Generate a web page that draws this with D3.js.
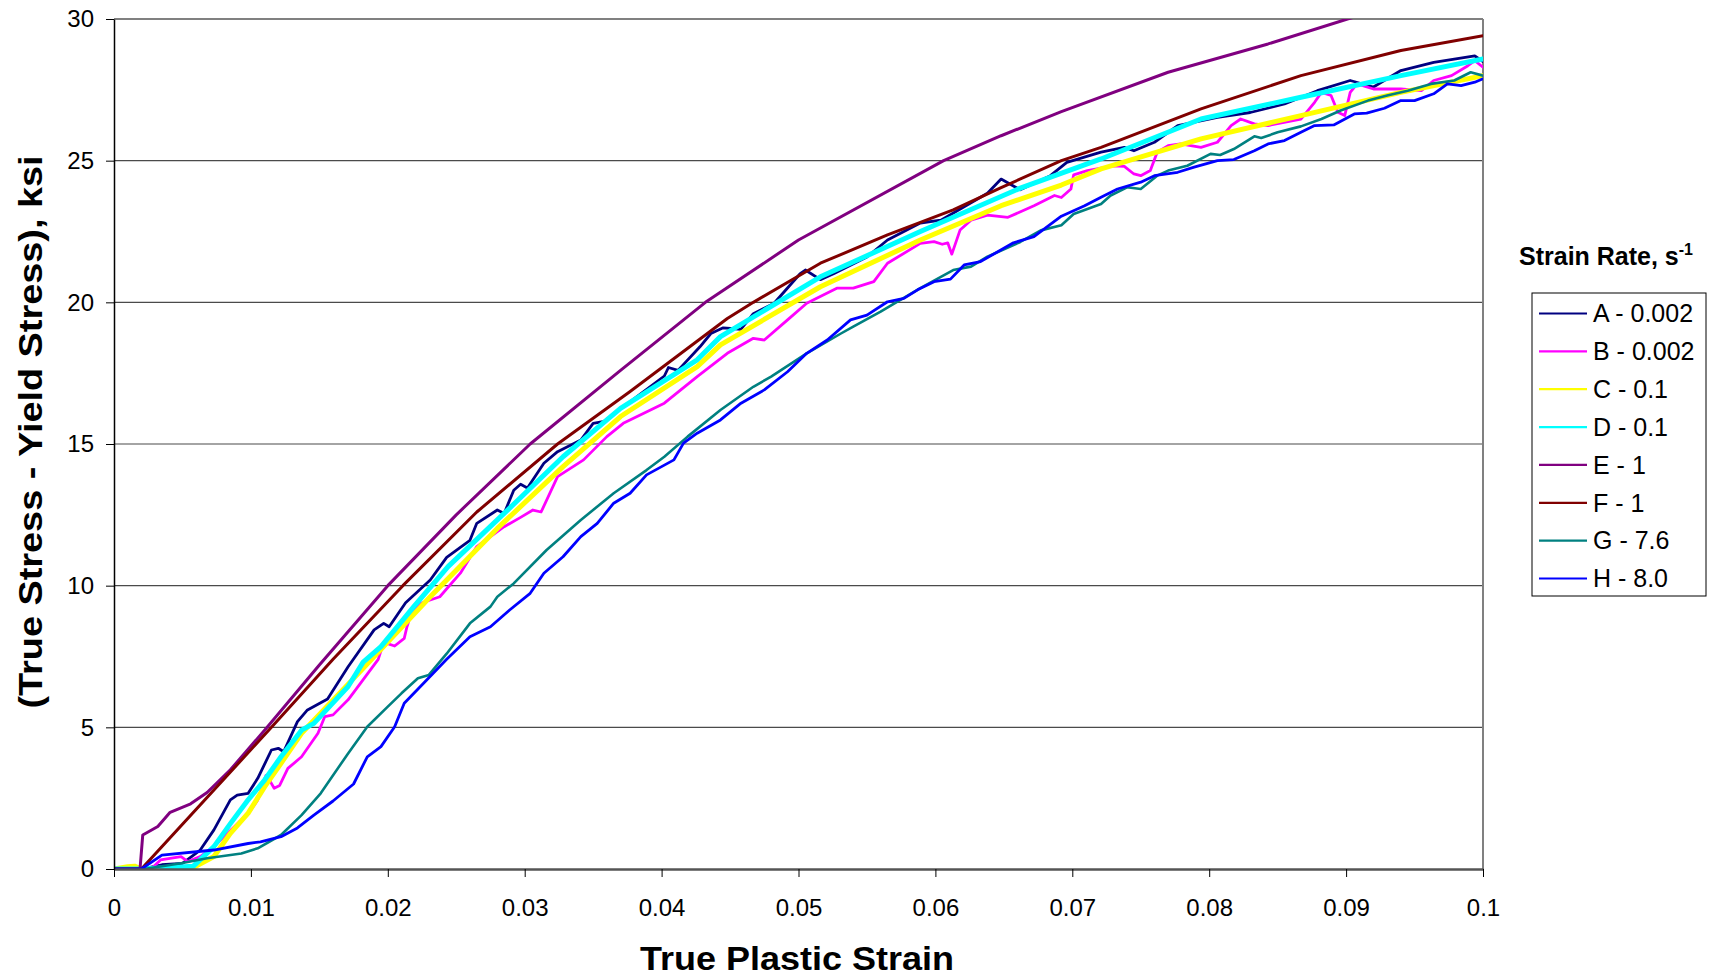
<!DOCTYPE html>
<html>
<head>
<meta charset="utf-8">
<script src="https://cdn.jsdelivr.net/npm/d3@7"></script>
<style>
  html, body { margin: 0; padding: 0; background: #fff; }
  svg { display: block; }
  text { font-family: "Liberation Sans", Arial, Helvetica, sans-serif; fill: #000; }
</style>
</head>
<body>
<svg id="chart" width="1716" height="979"></svg>
<script>
// ---------- DATA ----------
const xTicks = [0, 0.01, 0.02, 0.03, 0.04, 0.05, 0.06, 0.07, 0.08, 0.09, 0.1];
const xTickLabels = ["0", "0.01", "0.02", "0.03", "0.04", "0.05", "0.06", "0.07", "0.08", "0.09", "0.1"];
const yTicks = [0, 5, 10, 15, 20, 25, 30];
const yTickLabels = ["0", "5", "10", "15", "20", "25", "30"];

const seriesNames = ["A - 0.002", "B - 0.002", "C - 0.1", "D - 0.1", "E - 1", "F - 1", "G - 7.6", "H - 8.0"];
const seriesColors = ["#000080", "#FF00FF", "#FFFF00", "#00FFFF", "#800080", "#800000", "#008080", "#0000FF"];

const seriesA = [[0,0],[0.002,0],[0.0035,0.15],[0.005,0.2],[0.0063,0.67],[0.0073,1.38],[0.0085,2.44],[0.009,2.61],[0.0098,2.67],[0.0105,3.2],[0.0115,4.2],[0.012,4.26],[0.0124,4.14],[0.0134,5.2],[0.0141,5.6],[0.0156,6.0],[0.0171,7.14],[0.019,8.44],[0.0197,8.67],[0.0201,8.55],[0.0213,9.4],[0.0231,10.2],[0.0243,11.0],[0.026,11.6],[0.0265,12.2],[0.028,12.67],[0.0285,12.55],[0.0292,13.37],[0.0297,13.58],[0.0302,13.45],[0.0314,14.32],[0.0324,14.73],[0.0341,15.14],[0.035,15.73],[0.0358,15.8],[0.0373,16.35],[0.0402,17.4],[0.0405,17.7],[0.0412,17.6],[0.0428,18.43],[0.0436,18.9],[0.0445,19.1],[0.0458,19.05],[0.0467,19.6],[0.0482,19.96],[0.0501,21.0],[0.0505,21.14],[0.0516,20.8],[0.0526,21.02],[0.055,21.6],[0.0565,22.2],[0.0589,22.8],[0.0604,22.9],[0.0638,23.85],[0.0648,24.35],[0.0662,23.97],[0.0684,24.47],[0.0696,24.94],[0.0721,25.3],[0.0738,25.47],[0.0745,25.35],[0.076,25.65],[0.0777,26.24],[0.0806,26.53],[0.083,26.7],[0.0855,27.0],[0.0879,27.47],[0.0903,27.83],[0.092,27.6],[0.094,28.18],[0.0964,28.47],[0.0994,28.7],[0.1,28.5]];

const seriesB = [[0,0],[0.0027,0],[0.0034,0.32],[0.0049,0.44],[0.0054,0.26],[0.0063,0.44],[0.0073,0.79],[0.0083,1.26],[0.0093,1.73],[0.01,2.08],[0.0105,2.44],[0.0111,3.3],[0.0114,3.1],[0.0117,2.85],[0.0121,2.95],[0.0127,3.55],[0.0137,3.96],[0.0149,4.79],[0.0154,5.38],[0.016,5.44],[0.0171,5.97],[0.018,6.55],[0.0193,7.4],[0.0197,8.0],[0.0205,7.87],[0.0212,8.14],[0.0214,8.55],[0.0217,9.0],[0.0224,9.38],[0.0238,9.61],[0.0253,10.44],[0.0265,11.38],[0.0285,12.08],[0.0297,12.41],[0.0306,12.67],[0.0312,12.6],[0.0324,13.85],[0.0343,14.44],[0.036,15.26],[0.0372,15.73],[0.0402,16.44],[0.0426,17.38],[0.0448,18.2],[0.0467,18.73],[0.0475,18.67],[0.0492,19.38],[0.0506,19.97],[0.0528,20.5],[0.054,20.5],[0.0555,20.73],[0.0565,21.38],[0.0589,22.08],[0.0599,22.14],[0.0605,22.05],[0.0609,22.1],[0.0612,21.7],[0.0618,22.55],[0.0626,22.9],[0.0638,23.08],[0.0653,23.0],[0.0672,23.41],[0.0687,23.77],[0.0692,23.7],[0.0699,24.0],[0.0701,24.5],[0.0711,24.65],[0.073,24.82],[0.0738,24.8],[0.0745,24.53],[0.075,24.47],[0.0757,24.65],[0.0762,25.3],[0.077,25.53],[0.0779,25.59],[0.0794,25.47],[0.0806,25.65],[0.0816,26.24],[0.0823,26.47],[0.0833,26.3],[0.0843,26.24],[0.0867,26.47],[0.0877,27.06],[0.0882,27.41],[0.0889,27.3],[0.0894,26.71],[0.0899,26.59],[0.0903,27.41],[0.0908,27.71],[0.092,27.53],[0.094,27.53],[0.0955,27.47],[0.0964,27.83],[0.0977,28.0],[0.0989,28.35],[0.0994,28.53],[0.1,28.3]];

const seriesC = [[0,0],[0.001,0.08],[0.0015,0.1],[0.002,0],[0.0056,0],[0.0073,0.44],[0.0085,1.26],[0.0098,1.97],[0.011,2.9],[0.0122,3.73],[0.0137,4.79],[0.0182,7.08],[0.0231,9.61],[0.028,12.02],[0.0328,14.2],[0.037,15.97],[0.0426,17.73],[0.0443,18.5],[0.0516,20.55],[0.0589,22.2],[0.0648,23.41],[0.0692,24.14],[0.0721,24.71],[0.0794,25.77],[0.0867,26.59],[0.094,27.41],[0.1,28.0]];

const seriesD = [[0,0],[0.002,0],[0.0058,0.1],[0.0073,0.79],[0.0085,1.6],[0.0098,2.44],[0.011,3.14],[0.0122,3.96],[0.0137,4.9],[0.0146,5.14],[0.0171,6.44],[0.0182,7.3],[0.0195,7.85],[0.0219,9.26],[0.0244,10.67],[0.028,12.32],[0.0328,14.55],[0.037,16.26],[0.0426,17.97],[0.0443,18.79],[0.0516,20.9],[0.0589,22.5],[0.0662,24.03],[0.0721,25.06],[0.0794,26.47],[0.0867,27.24],[0.094,28.0],[0.1,28.59]];

const seriesE = [[0,0],[0.0019,0],[0.0021,1.2],[0.0032,1.5],[0.0041,2.0],[0.0056,2.3],[0.0068,2.7],[0.0085,3.5],[0.011,4.9],[0.015,7.2],[0.020,10.0],[0.025,12.5],[0.0304,15.0],[0.037,17.6],[0.0432,20.0],[0.05,22.2],[0.0606,25.0],[0.0648,25.88],[0.0692,26.73],[0.077,28.12],[0.0843,29.12],[0.0901,30.0],[0.1,31.3]];

const seriesF = [[0,0],[0.002,0],[0.0115,5.0],[0.016,7.4],[0.0211,10.0],[0.0265,12.6],[0.0324,15.0],[0.0377,16.85],[0.0448,19.43],[0.0467,20.0],[0.0516,21.38],[0.0565,22.38],[0.0613,23.26],[0.0648,24.05],[0.0692,25.0],[0.0721,25.47],[0.0794,26.83],[0.0867,28.0],[0.094,28.89],[0.1,29.41]];

const seriesG = [[0,0],[0.0022,0],[0.0049,0.2],[0.0068,0.38],[0.0093,0.55],[0.0105,0.73],[0.0122,1.2],[0.0137,1.9],[0.0151,2.67],[0.0171,4.08],[0.0185,5.02],[0.02,5.73],[0.021,6.2],[0.0222,6.73],[0.023,6.85],[0.0243,7.6],[0.026,8.67],[0.0275,9.26],[0.028,9.61],[0.0292,10.08],[0.0316,11.26],[0.0341,12.32],[0.0365,13.26],[0.0389,14.08],[0.0402,14.55],[0.0419,15.26],[0.0443,16.2],[0.0467,17.02],[0.048,17.38],[0.0506,18.2],[0.0531,18.9],[0.054,19.14],[0.056,19.67],[0.0572,20.02],[0.0589,20.5],[0.0613,21.14],[0.0626,21.26],[0.0638,21.61],[0.0662,22.13],[0.0677,22.54],[0.0692,22.72],[0.0701,23.12],[0.0721,23.47],[0.0728,23.77],[0.074,24.06],[0.075,24.0],[0.0762,24.47],[0.077,24.65],[0.0784,24.82],[0.0801,25.24],[0.0808,25.2],[0.0818,25.41],[0.0833,25.86],[0.0838,25.8],[0.085,26.0],[0.0867,26.21],[0.0882,26.47],[0.0896,26.77],[0.0916,27.12],[0.093,27.3],[0.0945,27.47],[0.0962,27.71],[0.0979,27.83],[0.0991,28.12],[0.1,28.0]];

const seriesH = [[0,0],[0.002,0],[0.0035,0.49],[0.0073,0.67],[0.0098,0.9],[0.0107,0.96],[0.0122,1.14],[0.0134,1.45],[0.0146,1.9],[0.016,2.4],[0.0175,3.0],[0.0185,3.96],[0.0195,4.32],[0.0205,5.02],[0.0212,5.85],[0.0227,6.6],[0.0243,7.4],[0.026,8.2],[0.0275,8.55],[0.0289,9.14],[0.0304,9.73],[0.0314,10.44],[0.0328,11.02],[0.0341,11.73],[0.0353,12.2],[0.0365,12.91],[0.0377,13.26],[0.0389,13.91],[0.0409,14.44],[0.0416,15.03],[0.0426,15.38],[0.0443,15.85],[0.0458,16.44],[0.0475,16.91],[0.0492,17.55],[0.0506,18.2],[0.0521,18.67],[0.0538,19.38],[0.055,19.55],[0.0565,20.02],[0.0577,20.14],[0.0587,20.44],[0.0599,20.73],[0.0611,20.82],[0.0621,21.32],[0.0633,21.44],[0.0657,22.1],[0.0672,22.32],[0.0692,23.04],[0.0709,23.41],[0.0721,23.71],[0.0733,24.0],[0.075,24.24],[0.076,24.47],[0.0777,24.59],[0.0789,24.77],[0.0806,25.0],[0.0818,25.04],[0.0833,25.35],[0.0843,25.59],[0.0855,25.71],[0.0867,26.0],[0.0877,26.24],[0.0891,26.26],[0.0906,26.65],[0.0915,26.68],[0.0928,26.85],[0.094,27.12],[0.095,27.12],[0.0964,27.36],[0.0974,27.71],[0.0984,27.65],[0.0994,27.77],[0.1,27.89]];

const allSeries = [seriesA, seriesB, seriesC, seriesD, seriesE, seriesF, seriesG, seriesH];
const seriesWidths = [2.8, 2.8, 5, 5, 3, 3, 2.6, 2.8];

// ---------- LAYOUT ----------
(function () {
  const svg = d3.select("#chart");
  const pLeft = 114, pRight = 1483, pTop = 19, pBottom = 869;

  const x = d3.scaleLinear().domain([0, 0.1]).range([pLeft, pRight]);
  const y = d3.scaleLinear().domain([0, 30]).range([pBottom, pTop]);

  // gridlines
  svg.append("g").selectAll("line").data(yTicks.filter(v => v > 0 && v < 30)).join("line")
    .attr("x1", pLeft).attr("x2", pRight)
    .attr("y1", d => y(d)).attr("y2", d => y(d))
    .attr("stroke", "#4a4a4a").attr("stroke-width", 1.2);

  // top / right frame
  svg.append("line").attr("x1", pLeft).attr("x2", pRight).attr("y1", pTop).attr("y2", pTop)
    .attr("stroke", "#808080").attr("stroke-width", 2);
  svg.append("line").attr("x1", pRight).attr("x2", pRight).attr("y1", pTop).attr("y2", pBottom)
    .attr("stroke", "#808080").attr("stroke-width", 2);

  // clip
  svg.append("defs").append("clipPath").attr("id", "plotclip")
    .append("rect").attr("x", pLeft).attr("y", pTop).attr("width", pRight - pLeft).attr("height", pBottom - pTop);

  const line = d3.line().x(d => x(d[0])).y(d => y(d[1]));
  const gLines = svg.append("g").attr("clip-path", "url(#plotclip)");
  allSeries.forEach((s, i) => {
    gLines.append("path").datum(s).attr("d", line)
      .attr("fill", "none").attr("stroke", seriesColors[i])
      .attr("stroke-width", seriesWidths[i])
      .attr("stroke-linejoin", "round").attr("stroke-linecap", "round");
  });

  // axes
  const xAxis = d3.axisBottom(x).tickValues(xTicks).tickFormat((d, i) => xTickLabels[i]).tickSize(8).tickSizeOuter(0);
  const gx = svg.append("g").attr("transform", `translate(0,${pBottom})`).call(xAxis);
  gx.select(".domain").attr("stroke", "#555").attr("stroke-width", 2.5);
  gx.selectAll(".tick line").attr("stroke", "#000").attr("stroke-width", 1);
  gx.selectAll(".tick text").attr("font-size", 24).attr("y", 30).attr("dy", "0.71em")
    .style("font-family", "'Liberation Sans', Arial, sans-serif").attr("fill", "#000");

  const yAxis = d3.axisLeft(y).tickValues(yTicks).tickFormat((d, i) => yTickLabels[i]).tickSize(8).tickSizeOuter(0);
  const gy = svg.append("g").attr("transform", `translate(${pLeft},0)`).call(yAxis);
  gy.select(".domain").attr("stroke", "#000").attr("stroke-width", 1.5);
  gy.selectAll(".tick line").attr("stroke", "#000").attr("stroke-width", 1);
  gy.selectAll(".tick text").attr("font-size", 24).attr("x", -20)
    .style("font-family", "'Liberation Sans', Arial, sans-serif").attr("fill", "#000");

  // axis titles
  svg.append("text").attr("x", 797).attr("y", 970).attr("text-anchor", "middle")
    .attr("font-size", 33).attr("font-weight", "bold")
    .attr("textLength", 314).attr("lengthAdjust", "spacingAndGlyphs")
    .text("True Plastic Strain");

  svg.append("text").attr("transform", "translate(42,432) rotate(-90)").attr("text-anchor", "middle")
    .attr("font-size", 33).attr("font-weight", "bold")
    .attr("textLength", 553).attr("lengthAdjust", "spacingAndGlyphs")
    .text("(True Stress - Yield Stress), ksi");

  // legend title
  const lt = svg.append("text").attr("x", 1519).attr("y", 265).attr("font-size", 25).attr("font-weight", "bold");
  lt.append("tspan").text("Strain Rate, s");
  lt.append("tspan").attr("font-size", 16).attr("dy", -10).text("-1");

  // legend box
  svg.append("rect").attr("x", 1532).attr("y", 293).attr("width", 174).attr("height", 303)
    .attr("fill", "#fff").attr("stroke", "#000").attr("stroke-width", 1);

  const legendY = d3.scaleLinear().domain([0, 7]).range([313.5, 578.5]);
  const lg = svg.append("g").selectAll("g").data(seriesNames).join("g")
    .attr("transform", (d, i) => `translate(0,${legendY(i)})`);
  lg.append("line").attr("x1", 1539).attr("x2", 1587).attr("y1", 0).attr("y2", 0)
    .attr("stroke", (d, i) => seriesColors[i]).attr("stroke-width", 2.2);
  lg.append("text").attr("x", 1593).attr("y", 0).attr("dy", "0.35em").attr("font-size", 25)
    .text(d => d);
})();
</script>
</body>
</html>
